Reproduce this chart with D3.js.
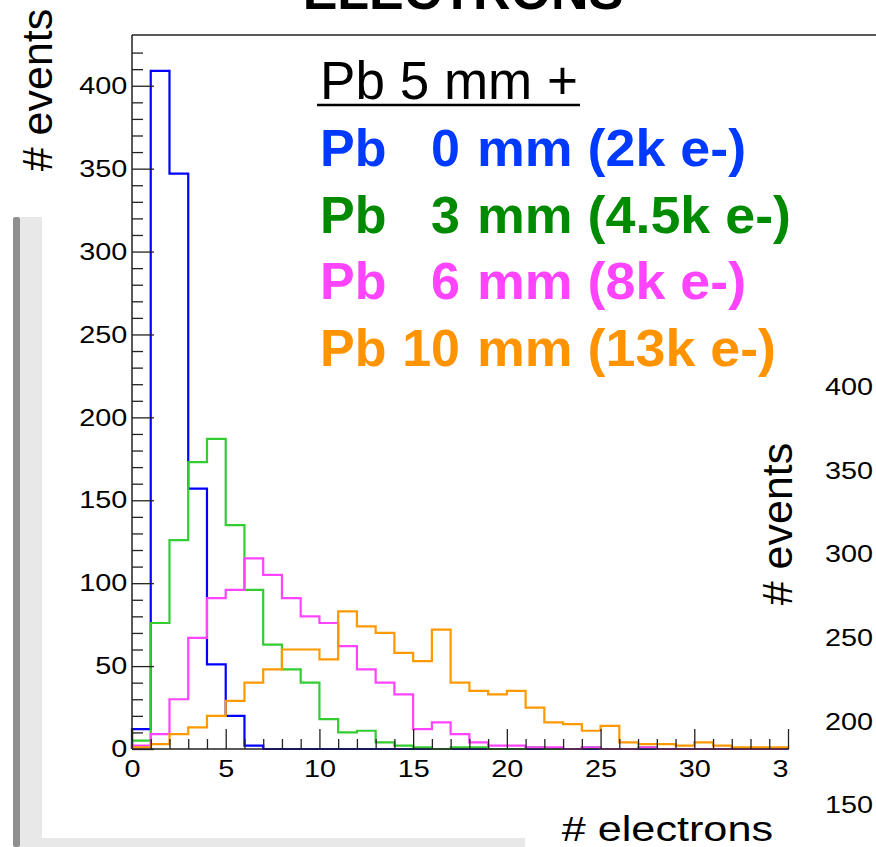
<!DOCTYPE html>
<html>
<head>
<meta charset="utf-8">
<script src="https://cdn.jsdelivr.net/npm/d3@7"></script>
<style>
  body { margin: 0; background: #fff; }
  svg { display: block; font-family: "Liberation Sans", Arial, sans-serif; }
</style>
</head>
<body>
<script>
// bin contents, one value per 1-electron bin starting at 0
var pb0  = [12, 409, 347, 157, 51, 20, 2, 0, 0, 0, 0, 0, 0, 0, 0, 0, 0, 0, 0, 0, 0, 0, 0, 0, 0, 0, 0, 0, 0, 0, 0, 0, 0, 0, 0];
var pb3  = [5, 76, 126, 173, 187, 135, 96, 63, 48, 40, 18, 10, 11, 4, 2, 1, 0, 1, 1, 0, 0, 1, 0, 0, 1, 0, 0, 1, 0, 0, 0, 0, 0, 0, 0];
var pb6  = [2, 9, 30, 67, 91, 96, 115, 105, 91, 80, 76, 62, 48, 40, 33, 12, 16, 9, 4, 2, 2, 1, 1, 0, 1, 0, 0, 1, 0, 0, 0, 0, 0, 0, 0];
var pb10 = [1, 3, 9, 13, 20, 29, 40, 48, 60, 60, 54, 83, 74, 70, 58, 53, 72, 40, 35, 33, 35, 25, 16, 15, 11, 14, 4, 3, 3, 2, 4, 2, 1, 1, 1];

var series      = [pb0, pb3, pb6, pb10];
var lineColors  = ["#0000ff", "#33cc33", "#ff44ff", "#ff9900"];
var textColors  = ["#0039ff", "#008a00", "#ff44ff", "#ff9300"];
var thickness   = ["0", "3", "6", "10"];
var electrons   = ["mm (2k e-)", "mm (4.5k e-)", "mm (8k e-)", "mm (13k e-)"];

var xTicks = [0, 5, 10, 15, 20, 25, 30, 35];
var yTicks = [0, 50, 100, 150, 200, 250, 300, 350, 400];
var rightTicks = [150, 200, 250, 300, 350, 400];

var W = 876, H = 847;
var svg = d3.select("body").append("svg").attr("width", W).attr("height", H);

// slide decoration on the left
svg.append("rect").attr("x", 20).attr("y", 217).attr("width", 22).attr("height", 630).attr("fill", "#e8e8e8");
svg.append("rect").attr("x", 20).attr("y", 838).attr("width", 505).attr("height", 9).attr("fill", "#e8e8e8");
svg.append("rect").attr("x", 13).attr("y", 217).attr("width", 7).attr("height", 630).attr("rx", 2).attr("fill", "#8f8f8f");

var x = d3.scaleLinear().domain([0, 35]).range([132, 788]);
var y = d3.scaleLinear().domain([0, 430]).range([749, 36]);

svg.append("clipPath").attr("id", "plotclip")
  .append("rect").attr("x", 120).attr("y", 30).attr("width", 670).attr("height", 760);

var plot = svg.append("g").attr("clip-path", "url(#plotclip)");

function stepPath(vals) {
  var pts = [[0, 0]];
  vals.forEach(function(v, i) { pts.push([i, v]); pts.push([i + 1, v]); });
  pts.push([vals.length, 0]);
  return d3.line().x(function(d) { return x(d[0]); }).y(function(d) { return y(d[1]); })(pts);
}

series.forEach(function(s, i) {
  plot.append("path")
    .attr("d", stepPath(s))
    .attr("fill", "none")
    .attr("stroke", lineColors[i])
    .attr("stroke-width", 2.2);
});

// frame lines
svg.append("line").attr("x1", 132).attr("x2", 876).attr("y1", 35).attr("y2", 35).attr("stroke", "#222").attr("stroke-width", 1.5);
svg.append("line").attr("x1", 132).attr("x2", 132).attr("y1", 35).attr("y2", 749).attr("stroke", "#222").attr("stroke-width", 1.5);
plot.append("line").attr("x1", 132).attr("x2", 789).attr("y1", 749).attr("y2", 749).attr("stroke", "#222").attr("stroke-width", 1.5);

// y axis
var yMajor = svg.append("g").attr("transform", "translate(132,0)")
  .call(d3.axisLeft(y).tickValues(yTicks).tickSizeInner(-22).tickSizeOuter(0).tickPadding(4));
var yMinor = svg.append("g").attr("transform", "translate(132,0)")
  .call(d3.axisLeft(y).tickValues(d3.range(10, 430, 10).filter(function(v) { return v % 50; }))
    .tickFormat("").tickSizeInner(-11).tickSizeOuter(0));

// x axis
var xMajor = plot.append("g").attr("transform", "translate(0,749)")
  .call(d3.axisBottom(x).tickValues(xTicks).tickSizeInner(-20).tickSizeOuter(0).tickPadding(11));
var xMinor = plot.append("g").attr("transform", "translate(0,749)")
  .call(d3.axisBottom(x).tickValues(d3.range(1, 35).filter(function(v) { return v % 5; }))
    .tickFormat("").tickSizeInner(-10).tickSizeOuter(0));

[yMajor, yMinor, xMajor, xMinor].forEach(function(g) {
  g.select(".domain").remove();
  g.selectAll(".tick line").attr("stroke", "#222").attr("stroke-width", 1.3);
  g.selectAll("text")
    .attr("font-family", "'Liberation Sans', Arial, sans-serif")
    .attr("font-size", 24)
    .attr("fill", "#000");
});
yMajor.selectAll("text").attr("transform", "scale(1.2,1)");
xMajor.selectAll("text").attr("transform", "scale(1.2,1)");

// right-hand neighbouring panel (labels only visible)
var yr = d3.scaleLinear().domain([150, 400]).range([805, 387]);
var rAxis = svg.append("g").attr("transform", "translate(873,0)")
  .call(d3.axisLeft(yr).tickValues(rightTicks).tickSize(0).tickPadding(0));
rAxis.select(".domain").remove();
rAxis.selectAll("text")
  .attr("font-family", "'Liberation Sans', Arial, sans-serif")
  .attr("font-size", 24)
  .attr("fill", "#000")
  .attr("transform", "scale(1.2,1)");

// titles
svg.append("text")
  .attr("x", 463).attr("y", 9)
  .attr("text-anchor", "middle")
  .attr("font-size", 52).attr("font-weight", "bold")
  .text("ELECTRONS");

svg.append("text")
  .attr("transform", "translate(52,90) rotate(-90)")
  .attr("text-anchor", "middle")
  .attr("font-size", 43)
  .text("# events");

svg.append("text")
  .attr("transform", "translate(792,524) rotate(-90)")
  .attr("text-anchor", "middle")
  .attr("font-size", 43)
  .text("# events");

svg.append("text")
  .attr("transform", "translate(773,841) scale(1.2,1)")
  .attr("text-anchor", "end")
  .attr("font-size", 36)
  .text("# electrons");

// legend
svg.append("text")
  .attr("x", 320).attr("y", 99)
  .attr("font-size", 53)
  .attr("textLength", 258)
  .text("Pb 5 mm +");
svg.append("line").attr("x1", 317).attr("x2", 580).attr("y1", 105).attr("y2", 105)
  .attr("stroke", "#000").attr("stroke-width", 2.5);

var leg = svg.append("g").attr("font-size", 52).attr("font-weight", "bold");
thickness.forEach(function(t, i) {
  var by = 166 + i * 66.7;
  leg.append("text").attr("x", 320).attr("y", by).attr("fill", textColors[i]).text("Pb");
  leg.append("text").attr("x", 460).attr("y", by).attr("text-anchor", "end").attr("fill", textColors[i]).text(t);
  leg.append("text").attr("x", 477).attr("y", by).attr("fill", textColors[i])
    .attr("transform", "translate(477," + by + ") scale(1.035,1) translate(-477," + (-by) + ")")
    .text(electrons[i]);
});
</script>
</body>
</html>
